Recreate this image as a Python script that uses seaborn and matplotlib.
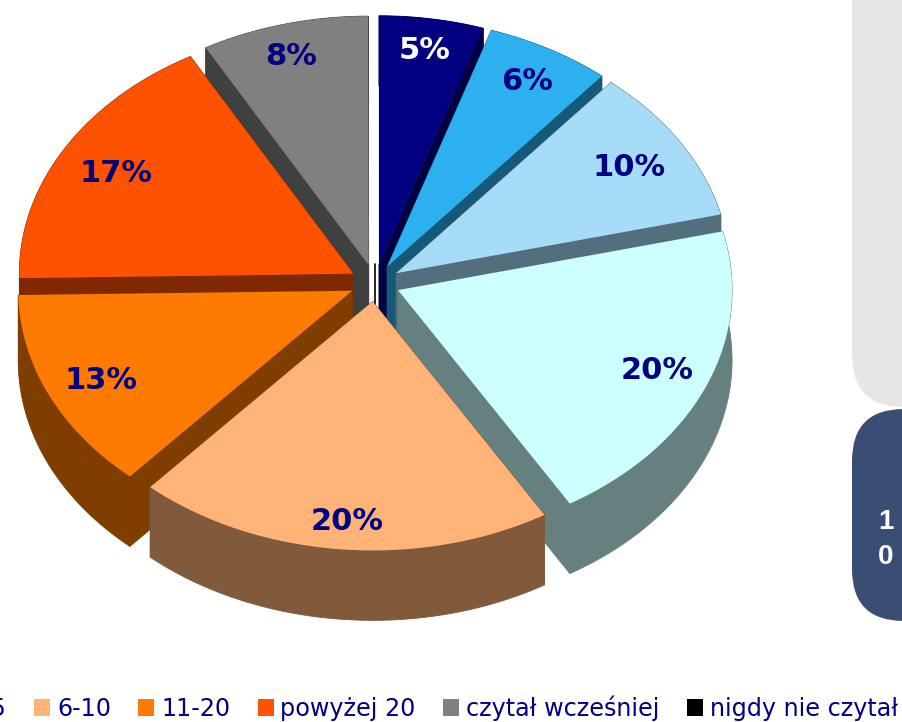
import numpy as np
import matplotlib
matplotlib.use("Agg")
import matplotlib.pyplot as plt
from matplotlib.patches import FancyBboxPatch, Patch
import seaborn as sns

slice_values = [5, 6, 10, 20, 20, 13, 17, 8, 0.03]
slice_colors = ["#000080", "#2CB0F0", "#A6DCF8", "#CCFFFF", "#FFB376",
                "#FF7A00", "#FF5200", "#808080", "#000000"]
label_colors = ["white"] + ["#000080"] * 8
label_nudges = [(0, -3), (0, 2), (-11, 7), (-6, -2), (2, 7), (10, 1), (12, 6), (-5, -1), (0, 0)]
legend_labels = ["1-5", "6-10", "11-20", "powyżej 20", "czytał wcześniej", "nigdy nie czytał"]
legend_slices = [3, 4, 5, 6, 7, 8]
side_labels = ["1", "0"]

W, H = 903, 722
SQUASH = 0.745
CX, CY = 375, 283
RADIUS = 334
EXPLODE = 25
DEPTH = 70 / SQUASH

sns.set_theme(style="white")
plt.rcParams["font.family"] = ["DejaVu Sans"]
palette = sns.color_palette(slice_colors)

fig = plt.figure(figsize=(W / 100, H / 100), dpi=100, facecolor="white")

# pixel-space layer: side panels and legend
bg = fig.add_axes([0, 0, 1, 1], zorder=0)
bg.set_xlim(0, W)
bg.set_ylim(H, 0)
bg.axis("off")
bg.add_patch(FancyBboxPatch((852, -120), 300, 527, boxstyle="round,pad=0,rounding_size=52",
                            fc="#E6E6E6", ec="none"))
bg.add_patch(FancyBboxPatch((852, 409), 300, 212, boxstyle="round,pad=0,rounding_size=52",
                            fc="#3A4E74", ec="none"))
for lab, y in zip(side_labels, [522, 557]):
    bg.text(886, y, lab, color="white", fontsize=20, fontweight="bold",
            family="Liberation Sans", ha="center", va="center")

# pie layer: y is squashed by the axis limits, so circles appear as ellipses
ax = fig.add_axes([0, 0, 1, 1], zorder=1)
ax.patch.set_alpha(0)
wedges, _, pcts = ax.pie(slice_values, colors=palette, startangle=90, counterclock=False,
                         radius=RADIUS, explode=[EXPLODE] * len(slice_values),
                         autopct="%.0f%%", pctdistance=0.86,
                         textprops=dict(color="#000080", fontsize=22, fontweight="bold"),
                         wedgeprops=dict(linewidth=0))
ax.set_aspect("auto")
ax.set_xlim(-CX, W - CX)
ax.set_ylim((CY - H) / SQUASH, CY / SQUASH)
ax.axis("off")

order = np.argsort([-w.center[1] for w in wedges])
for rank, i in enumerate(order):
    w = wedges[i]
    w.set_zorder(2 * rank + 1)
    cx0, cy0 = w.center
    side = tuple(c * 0.5 for c in w.get_facecolor()[:3])
    if slice_values[i] < 0.5:
        # a sliver: only its inner edge can be seen
        w.set_visible(False)
        ax.plot([cx0, cx0], [cy0, cy0 - DEPTH], color="black", lw=1.2, zorder=2 * rank)
        continue
    t = np.radians(np.linspace(w.theta1, w.theta2, 120))
    arc_x = cx0 + w.r * np.cos(t)
    arc_y = cy0 + w.r * np.sin(t)
    kw = dict(fc=side, ec=side, lw=0.6, zorder=2 * rank)
    ax.fill(np.r_[arc_x, arc_x[::-1]], np.r_[arc_y, arc_y[::-1] - DEPTH], **kw)
    for px, py in [(arc_x[0], arc_y[0]), (arc_x[-1], arc_y[-1])]:
        ax.fill([cx0, px, px, cx0], [cy0, py, py - DEPTH, cy0 - DEPTH], **kw)

for p, v, col, (dx, dy) in zip(pcts, slice_values, label_colors, label_nudges):
    p.set_zorder(100)
    p.set_color(col)
    x0, y0 = p.get_position()
    p.set_position((x0 + dx, y0 - dy / SQUASH))
    if v < 0.5:
        p.set_visible(False)

handles = [Patch(fc=palette[i], ec="none") for i in legend_slices]
leg = bg.legend(handles, legend_labels, ncol=6, frameon=False, loc="lower left",
                bbox_to_anchor=(-55, 721), bbox_transform=bg.transData,
                fontsize=17.2, labelcolor="#000080", handlelength=0.68, handleheight=0.68,
                handletextpad=0.28, columnspacing=1.14, borderpad=0, borderaxespad=0)

fig.savefig("out.png", dpi=100)
